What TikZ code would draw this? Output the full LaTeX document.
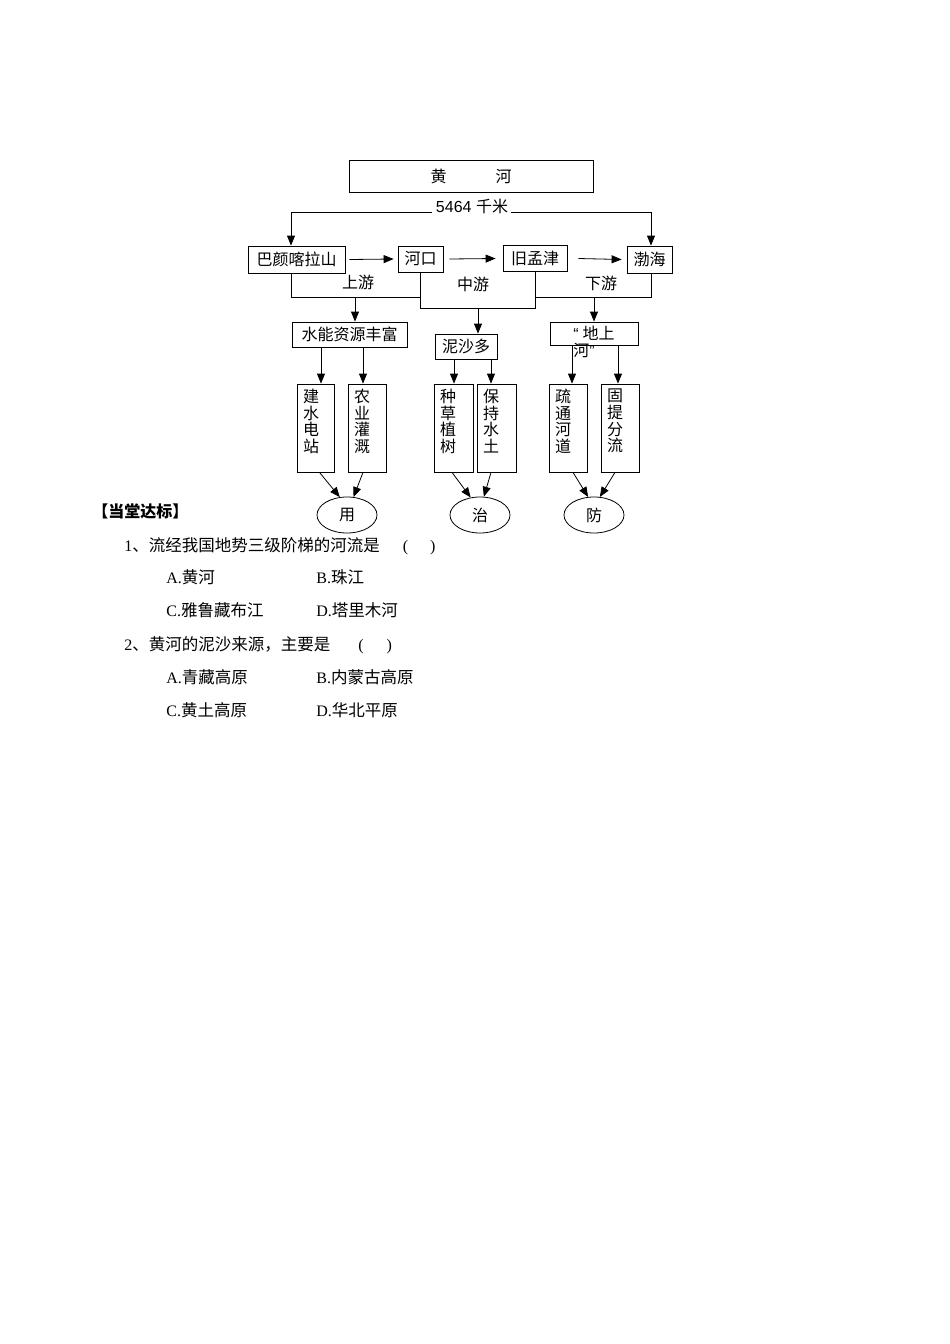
\documentclass[tikz,border=0pt]{standalone}
\usepackage{fontspec}
\setmainfont{Liberation Serif}
\newfontfamily\cjk{Noto Sans CJK SC}
\newfontfamily\arial{Liberation Sans}
\usetikzlibrary{arrows.meta,shapes.geometric}
\newcommand{\hw}[1]{{\rmfamily\fontsize{16}{16}\selectfont #1}}
\begin{document}
\begin{tikzpicture}[x=1pt,y=-1pt,line width=0.8pt,
  dg/.style={font=\cjk\fontsize{16}{16}\selectfont},
  box/.style={draw,rectangle,inner sep=0pt,dg},
  vbox/.style={draw,rectangle,inner sep=0pt,minimum height=88pt},
  vtxt/.style={font=\cjk\fontsize{16}{16.7}\selectfont,align=left,inner sep=0pt,anchor=north west},
  oval/.style={draw,ellipse,inner sep=0pt,minimum width=60pt,minimum height=36pt,dg},
  arr/.style={-{Triangle[length=10pt,width=8pt]}},
  lab/.style={dg,inner sep=0pt},
  qt/.style={font=\cjk\fontsize{16.5}{16.5}\selectfont,inner sep=0pt,anchor=base west}
]
\fill[white] (0,0) rectangle (950,1344);
\useasboundingbox (0,0) rectangle (950,1344);

% top
\node[box,minimum width=244pt,minimum height=32pt] (title) at (471,176) {黄\hspace{49pt}河};
\node[inner sep=0pt,font=\arial\fontsize{16}{16}\selectfont] (len) at (472,206) {5464 {\cjk 千米}};
\coordinate (lenL) at (432,212);
\coordinate (lenR) at (511,212);

\node[box,minimum width=97pt,minimum height=27pt] (bayan) at (296.5,259.5) {巴颜喀拉山};
\node[box,minimum width=45pt,minimum height=26pt] (hekou) at (420.5,259) {河口};
\node[box,minimum width=64pt,minimum height=26pt] (jiumeng) at (535,258.5) {旧孟津};
\node[box,minimum width=45pt,minimum height=27pt] (bohai) at (649.5,259.5) {渤海};

\draw[arr] (lenL) -| ([xshift=-5.5pt]bayan.north);
\draw[arr] (lenR) -| ([xshift=1.5pt]bohai.north);
\draw[arr] ([xshift=4pt]bayan.east) -- ([xshift=-4pt]hekou.west);
\draw[arr] ([xshift=6pt]hekou.east) -- ([xshift=-7pt]jiumeng.west);
\draw[arr] ([xshift=11pt]jiumeng.east) -- ([xshift=-5pt]bohai.west);

% brackets
\coordinate (yu) at (0,297);
\coordinate (ym) at (0,308);
\draw ([xshift=-5.5pt]bayan.south) |- (hekou.south |- yu);
\draw (hekou.south) |- (jiumeng.south |- ym) -- (jiumeng.south);
\draw (jiumeng.south |- yu) -| ([xshift=1.5pt]bohai.south);

\node[lab] (shang) at (358,282) {上游};
\node[lab] (zhongy) at (473,284) {中游};
\node[lab] (xia) at (601,283) {下游};

% level 2
\node[box,minimum width=115pt,minimum height=25pt] (shui) at (349.5,334.5) {水能资源丰富};
\node[box,minimum width=62pt,minimum height=25pt] (nisha) at (466,346.5) {泥沙多};
\node[box,minimum width=88pt,minimum height=23pt] (dish) at (594,333.5) {};
\node[lab,anchor=west] (dq1) at (573,333) {{\arial “}\hspace{4pt}地上};
\node[lab,anchor=west] (dq2) at (573,351) {河{\arial ”}};

\coordinate (a1) at (355,297);
\coordinate (a2) at (478,308);
\coordinate (a3) at (594,297);
\draw[arr] (a1) -- (a1 |- shui.north);
\draw[arr] (a2) -- (a2 |- nisha.north);
\draw[arr] (a3) -- (dish.north);

% level 3
\node[vbox,minimum width=37pt] (jian) at (315.5,428) {};
\node[vbox,minimum width=38pt] (nong) at (367,428) {};
\node[vbox,minimum width=39pt] (zhongc) at (453.5,428) {};
\node[vbox,minimum width=39pt] (bao) at (496.5,428) {};
\node[vbox,minimum width=38pt] (shu) at (568,428) {};
\node[vbox,minimum width=38pt] (gu) at (620,428) {};

\node[vtxt] (tjian) at ([shift={(6,5)}]jian.north west) {建\\水\\电\\站};
\node[vtxt] (tnong) at ([shift={(6,5)}]nong.north west) {农\\业\\灌\\溉};
\node[vtxt] (tzhong) at ([shift={(6,5)}]zhongc.north west) {种\\草\\植\\树};
\node[vtxt] (tbao) at ([shift={(6,5)}]bao.north west) {保\\持\\水\\土};
\node[vtxt] (tshu) at ([shift={(6,5)}]shu.north west) {疏\\通\\河\\道};
\node[vtxt] (tgu) at ([shift={(6,5)}]gu.north west) {固\\提\\分\\流};

\draw[arr] (321,0 |- shui.south) -- (321,0 |- jian.north);
\draw[arr] (363,0 |- shui.south) -- (363,0 |- nong.north);
\draw[arr] (454,0 |- nisha.south) -- (454,0 |- zhongc.north);
\draw[arr] (491,0 |- nisha.south) -- (491,0 |- bao.north);
\draw[arr] (572,0 |- dish.south) -- (572,0 |- shu.north);
\draw[arr] (618,0 |- dish.south) -- (618,0 |- gu.north);

% ovals
\node[oval] (yong) at (347,515) {用};
\node[oval] (zhi) at (480,515) {治};
\node[oval] (fang) at (594,515) {防};

\draw[arr] ([xshift=4pt]jian.south) -- (yong.112);
\draw[arr] ([xshift=-4pt]nong.south) -- (yong.70);
\draw[arr] ([xshift=-1.5pt]zhongc.south) -- (zhi.118);
\draw[arr] ([xshift=-5.5pt]bao.south) -- (zhi.78);
\draw[arr] ([xshift=5pt]shu.south) -- (fang.108);
\draw[arr] ([xshift=-5pt]gu.south) -- (fang.72);

% questions
\node[qt,font=\cjk\bfseries\fontsize{16}{16}\selectfont] (dt) at (92,517) {【当堂达标】};
\node[qt] (q1) at (124,551) {\hw{1}、流经我国地势三级阶梯的河流是\hspace{23pt}\hw{(}\hspace{22pt}\hw{)}};
\node[qt] (q1a) at (166,583) {\hw{A.}黄河};
\node[qt] (q1b) at (316,583) {\hw{B.}珠江};
\node[qt] (q1c) at (166,616) {\hw{C.}雅鲁藏布江};
\node[qt] (q1d) at (316,616) {\hw{D.}塔里木河};
\node[qt] (q2) at (124,650) {\hw{2}、黄河的泥沙来源，主要是\hspace{28pt}\hw{(}\hspace{23pt}\hw{)}};
\node[qt] (q2a) at (166,683) {\hw{A.}青藏高原};
\node[qt] (q2b) at (316,683) {\hw{B.}内蒙古高原};
\node[qt] (q2c) at (166,716) {\hw{C.}黄土高原};
\node[qt] (q2d) at (316,716) {\hw{D.}华北平原};
\end{tikzpicture}
\end{document}
